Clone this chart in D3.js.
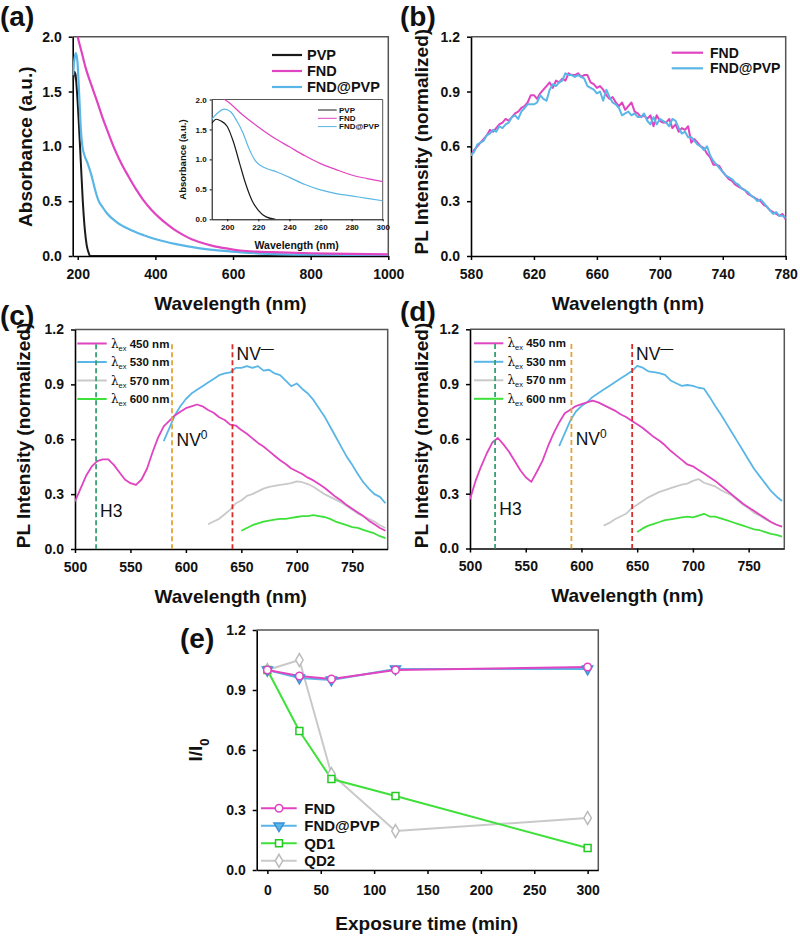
<!DOCTYPE html>
<html><head><meta charset="utf-8">
<script src="https://cdn.jsdelivr.net/npm/d3@7"></script>
<style>
body{margin:0;background:#fff}
text{font-family:"Liberation Sans",Arial,sans-serif}
</style>
</head><body>
<svg id="chart" width="800" height="937"></svg>
<script>
// ---------------- DATA ----------------
// (a) main absorbance
const aPVPx = [188,191,194,198,203,208,213,218,223,228,232,1000];
const aPVPy = [1.60,1.68,1.66,1.50,1.20,0.85,0.50,0.25,0.10,0.03,0,0];
const aFNDx = [195,200,210,220,235,249,265,280,292,310,330,350,369,390,410,430,447,470,495,515,550,590,619,660,700,800,900,1000];
const aFNDy = [2.10,2.00,1.86,1.72,1.56,1.42,1.25,1.11,1.00,0.86,0.73,0.61,0.51,0.42,0.35,0.29,0.245,0.195,0.15,0.125,0.09,0.065,0.05,0.04,0.035,0.025,0.02,0.015];
const aFPx = [188,191,195,199,204,208,212,218,225,235,245,253,265,275,300,335,370,404,450,515,600,688,800,1000];
const aFPy = [1.65,1.78,1.85,1.78,1.45,1.15,1.00,0.91,0.85,0.74,0.60,0.51,0.44,0.39,0.31,0.24,0.19,0.15,0.11,0.07,0.04,0.02,0.012,0.008];
// (a) inset
const iPVPx = [190,193,196,200,204,208,212,216,220,225,231];
const iPVPy = [1.60,1.67,1.64,1.55,1.29,0.93,0.58,0.31,0.15,0.04,0];
const iFNDx = [197,200,210,220,230,240,250,260,270,280,290,300];
const iFNDy = [2.02,1.97,1.74,1.54,1.36,1.21,1.06,0.93,0.83,0.74,0.68,0.63];
const iFPx = [190,194,198,202,206,210,214,218,222,226,232,240,250,260,270,280,290,300];
const iFPy = [1.67,1.78,1.84,1.80,1.65,1.45,1.18,0.98,0.89,0.84,0.79,0.70,0.58,0.49,0.43,0.39,0.35,0.31];
const aLegend = ["PVP","FND","FND@PVP"];

// (b) PL spectra, 580..780 nm every 2 nm
const bStart = 580, bStep = 2;
const bFND = [0.55,0.58,0.60,0.62,0.64,0.66,0.69,0.68,0.70,0.72,
0.73,0.75,0.74,0.76,0.78,0.79,0.81,0.82,0.84,0.88,
0.88,0.86,0.89,0.91,0.93,0.95,0.92,0.96,0.95,0.97,
0.96,1.00,0.99,0.99,1.00,0.98,0.99,0.99,0.95,0.94,
0.92,0.93,0.91,0.88,0.86,0.87,0.84,0.82,0.84,0.80,
0.82,0.84,0.79,0.78,0.76,0.77,0.75,0.77,0.71,0.77,
0.74,0.73,0.73,0.75,0.70,0.72,0.68,0.70,0.69,0.71,
0.62,0.64,0.62,0.60,0.59,0.56,0.54,0.50,0.50,0.49,
0.46,0.44,0.42,0.41,0.39,0.38,0.37,0.36,0.34,0.33,
0.32,0.31,0.30,0.28,0.27,0.25,0.24,0.23,0.22,0.23,
0.20];
const bFNDPVP = [0.55,0.57,0.61,0.62,0.63,0.66,0.67,0.69,0.68,0.71,
0.70,0.72,0.73,0.76,0.77,0.75,0.79,0.81,0.83,0.83,
0.83,0.84,0.88,0.86,0.85,0.91,0.94,0.93,0.95,0.96,
1.00,0.99,0.99,0.98,0.99,0.98,0.97,0.93,0.92,0.91,
0.89,0.90,0.85,0.91,0.87,0.84,0.83,0.81,0.77,0.78,
0.79,0.77,0.78,0.76,0.76,0.78,0.74,0.72,0.76,0.72,
0.75,0.74,0.73,0.71,0.75,0.74,0.70,0.67,0.68,0.65,
0.65,0.63,0.61,0.60,0.58,0.60,0.55,0.52,0.50,0.48,
0.46,0.44,0.43,0.42,0.40,0.39,0.37,0.36,0.35,0.33,
0.32,0.30,0.31,0.29,0.27,0.25,0.23,0.24,0.22,0.22,
0.21];
const bLegend = ["FND","FND@PVP"];

// (c),(d) excitation-dependent spectra, 5 nm steps
const cdStep = 5;
const start450 = 500, start530 = 580, start570 = 620, start600 = 650;
const c450 = [0.26,0.33,0.40,0.45,0.48,0.49,0.49,0.46,0.42,0.38,
0.36,0.35,0.38,0.44,0.53,0.61,0.67,0.70,0.73,0.75,
0.77,0.78,0.79,0.78,0.76,0.745,0.72,0.705,0.68,0.675,
0.65,0.63,0.605,0.58,0.56,0.535,0.51,0.485,0.465,0.44,
0.425,0.41,0.39,0.375,0.355,0.335,0.31,0.285,0.265,0.24,
0.22,0.20,0.18,0.155,0.135,0.115,0.10];
const c530 = [0.59,0.66,0.73,0.78,0.82,0.85,0.87,0.89,0.91,0.93,
0.95,0.96,0.965,0.99,0.99,1.00,0.99,1.00,0.975,0.98,
0.96,0.95,0.92,0.89,0.905,0.875,0.85,0.815,0.77,0.725,
0.67,0.615,0.56,0.505,0.46,0.41,0.365,0.33,0.30,0.285,
0.25];
const c570 = [0.135,0.15,0.165,0.19,0.215,0.25,0.265,0.29,0.30,0.315,
0.33,0.34,0.345,0.35,0.355,0.36,0.37,0.365,0.355,0.34,
0.32,0.30,0.285,0.27,0.255,0.235,0.215,0.195,0.18,0.165,0.15,0.13,0.115];
const c600 = [0.10,0.115,0.13,0.14,0.15,0.155,0.16,0.165,0.165,0.17,
0.175,0.18,0.18,0.185,0.18,0.175,0.165,0.15,0.14,0.13,
0.12,0.115,0.105,0.095,0.085,0.07,0.06];
const d450 = [0.27,0.37,0.45,0.52,0.58,0.605,0.57,0.53,0.48,0.43,
0.39,0.365,0.42,0.48,0.56,0.63,0.69,0.74,0.76,0.78,
0.79,0.80,0.81,0.80,0.785,0.77,0.755,0.735,0.72,0.70,
0.68,0.66,0.635,0.61,0.59,0.565,0.535,0.51,0.485,0.46,
0.45,0.43,0.41,0.39,0.37,0.345,0.32,0.295,0.27,0.245,
0.225,0.205,0.185,0.165,0.145,0.13,0.12];
const d530 = [0.56,0.63,0.70,0.75,0.78,0.80,0.83,0.85,0.87,0.89,
0.91,0.93,0.95,0.97,1.00,0.99,0.97,0.965,0.96,0.95,
0.92,0.905,0.89,0.895,0.89,0.88,0.875,0.83,0.78,0.735,
0.685,0.635,0.585,0.535,0.485,0.435,0.395,0.355,0.315,0.285,
0.26];
const d570 = [0.125,0.14,0.16,0.175,0.19,0.22,0.24,0.26,0.28,0.295,
0.31,0.32,0.33,0.34,0.35,0.355,0.37,0.38,0.36,0.35,
0.34,0.32,0.305,0.29,0.265,0.24,0.22,0.195,0.18,0.16,0.145,0.13,0.12];
const d600 = [0.09,0.11,0.125,0.135,0.145,0.155,0.16,0.165,0.17,0.175,
0.17,0.18,0.19,0.175,0.175,0.165,0.155,0.145,0.135,0.125,
0.115,0.105,0.10,0.09,0.08,0.075,0.065];
const exLabels = ["450 nm","530 nm","570 nm","600 nm"];
const cMarkers = [519, 587.5, 642];   // H3, NV0, NV-
const dMarkers = [522.5, 591, 645.5];

// (e) photostability
const eTimes = [0,30,60,120,300];
const eFND = [1.0,0.97,0.955,1.0,1.015];
const eFNDPVP = [1.0,0.96,0.95,1.005,1.005];
const eQD1 = [1.0,0.695,0.455,0.37,0.11];
const eQD2 = [1.0,1.05,0.48,0.195,0.26];
const eLegend = ["FND","FND@PVP","QD1","QD2"];

// ---------------- STYLE ----------------
const MAG = "#e044c0", CYAN = "#5ab6e6", GREEN = "#3ee03a", GRAY = "#c9c9c9", BLACK = "#1a1a1a";

const svg = d3.select("#chart");
const defs = svg.append("defs");
let clipId = 0;

function panel(o) {
  const x = d3.scaleLinear().domain(o.xd).range([o.l, o.r]);
  const y = d3.scaleLinear().domain(o.yd).range([o.b, o.t]);
  const g = svg.append("g");
  const id = "clip" + (clipId++);
  defs.append("clipPath").attr("id", id).append("rect")
    .attr("x", o.l).attr("y", o.t).attr("width", o.r - o.l).attr("height", o.b - o.t);
  g.append("path").attr("d", `M${o.l},${o.t}H${o.r}V${o.b}`)
    .attr("fill", "none").attr("stroke", "#555").attr("stroke-width", o.fw || 1.5);
  const fs = o.fs || 14, ts = o.ts || 4;
  const ax = g.append("g").attr("transform", `translate(0,${o.b})`)
    .call(d3.axisBottom(x).tickValues(o.xt).tickSize(ts).tickSizeOuter(0).tickPadding(o.xp || 9).tickFormat(o.xf || d3.format("d")));
  const ay = g.append("g").attr("transform", `translate(${o.l},0)`)
    .call(d3.axisLeft(y).tickValues(o.yt).tickSize(ts).tickSizeOuter(0).tickPadding(o.yp || 7).tickFormat(o.yf || d3.format(".1f")));
  [ax, ay].forEach(a => {
    a.select(".domain").attr("stroke", "#000").attr("stroke-width", o.aw || 1.6);
    a.selectAll(".tick line").attr("stroke", "#000").attr("stroke-width", o.aw || 1.5);
    a.selectAll(".tick text").attr("font-size", fs).attr("font-weight", "bold")
      .attr("font-family", '"Liberation Sans",Arial,sans-serif').attr("fill", "#111");
  });
  const plot = g.append("g").attr("clip-path", `url(#${id})`);
  return {x, y, g, plot};
}

function drawLine(p, xs, ys, color, w, curve) {
  const pts = xs.map((v, i) => [v, ys[i]]);
  p.plot.append("path").datum(pts)
    .attr("d", d3.line().curve(curve || d3.curveLinear).x(d => p.x(d[0])).y(d => p.y(d[1])))
    .attr("fill", "none").attr("stroke", color).attr("stroke-width", w)
    .attr("stroke-linejoin", "round");
}
function drawSeries(p, start, step, vals, color, w) {
  const xs = vals.map((v, i) => start + i * step);
  drawLine(p, xs, vals, color, w);
}
function label(txt, x, y, size, opts = {}) {
  const t = svg.append("text").attr("x", x).attr("y", y).attr("font-size", size)
    .attr("font-weight", opts.weight || "bold").attr("fill", "#111")
    .attr("text-anchor", opts.anchor || "start").text(txt);
  if (opts.rotate) t.attr("transform", `rotate(-90,${x},${y})`).attr("dy", "0.35em");
  if (opts.family) t.attr("font-family", opts.family);
  return t;
}
function legendLine(x1, x2, y, color, w) {
  svg.append("line").attr("x1", x1).attr("x2", x2).attr("y1", y).attr("y2", y)
    .attr("stroke", color).attr("stroke-width", w);
}
const smooth = d3.curveMonotoneX;

// ---------------- PANEL (a) ----------------
const pa = panel({l:72.7, r:388.3, t:36.7, b:256, xd:[187,1000], yd:[0,2],
  xt:[200,400,600,800,1000], yt:[0,0.5,1,1.5,2]});
drawLine(pa, aPVPx, aPVPy, BLACK, 2, smooth);
drawLine(pa, aFPx, aFPy, CYAN, 2.2, smooth);
drawLine(pa, aFNDx, aFNDy, MAG, 2.2, smooth);
[BLACK, MAG, CYAN].forEach((c, i) => {
  legendLine(272, 302, 55 + i * 16, c, 2.2);
  label(aLegend[i], 307, 55 + i * 16 + 5, 14.5);
});
label("Absorbance (a.u.)", 25, 146.7, 19, {rotate:true, anchor:"middle"});
label("Wavelength (nm)", 230.5, 310, 19, {anchor:"middle"});
label("(a)", 0, 26, 28);

// inset
const pi = panel({l:211.7, r:382.7, t:99.5, b:219.3, xd:[190,300], yd:[0,2],
  xt:[200,220,240,260,280,300], yt:[0,0.5,1,1.5,2], fs:8, ts:2, xp:3, yp:3, fw:1, aw:1});
drawLine(pi, iPVPx, iPVPy, BLACK, 1.2, smooth);
drawLine(pi, iFPx, iFPy, CYAN, 1.2, smooth);
drawLine(pi, iFNDx, iFNDy, MAG, 1.2, smooth);
[BLACK, MAG, CYAN].forEach((c, i) => {
  legendLine(318, 336.7, 110 + i * 8.3, c, 1);
  label(aLegend[i], 339, 110 + i * 8.3 + 2.8, 8);
});
label("Absorbance (a.u.)", 183, 159.5, 9.5, {rotate:true, anchor:"middle"});
label("Wavelength (nm)", 296.7, 248.5, 10.5, {anchor:"middle"});

// ---------------- PANEL (b) ----------------
const pb = panel({l:471, r:785.7, t:36.7, b:256, xd:[580,780], yd:[0,1.2],
  xt:[580,620,660,700,740,780], yt:[0,0.3,0.6,0.9,1.2]});
drawSeries(pb, bStart, bStep, bFND, MAG, 2);
drawSeries(pb, bStart, bStep, bFNDPVP, CYAN, 2);
[MAG, CYAN].forEach((c, i) => {
  legendLine(671.7, 703, 52.7 + i * 15.6, c, 2.2);
  label(bLegend[i], 710, 52.7 + i * 15.6 + 5, 14);
});
label("PL Intensity (normalized)", 421.7, 141.7, 19, {rotate:true, anchor:"middle"});
label("Wavelength (nm)", 628, 310, 19, {anchor:"middle"});
label("(b)", 400, 26, 28);

// ---------------- PANELS (c),(d) ----------------
function spectraPanel(box, data, markers, leg, lbl, tags) {
  const p = panel({l:box.l, r:box.r, t:box.t, b:box.b, xd:[500,782], yd:[0,1.2],
    xt:[500,550,600,650,700,750], yt:[0,0.3,0.6,0.9,1.2]});
  drawSeries(p, start570, cdStep, data[2], GRAY, 1.8);
  drawSeries(p, start600, cdStep, data[3], GREEN, 1.8);
  drawSeries(p, start530, cdStep, data[1], CYAN, 1.8);
  drawSeries(p, start450, cdStep, data[0], MAG, 1.8);
  [MAG, CYAN, GRAY, GREEN].forEach((c, i) => {
    const yy = leg.y0 + i * 18.5;
    legendLine(leg.x1, leg.x2, yy, c, 2);
    const t = svg.append("text").attr("x", leg.tx).attr("y", yy + 4).attr("fill", "#111");
    t.append("tspan").attr("font-size", 12).attr("font-family", '"DejaVu Serif",serif').text("λ");
    t.append("tspan").attr("font-size", 7.5).attr("dy", 3).text("ex");
    t.append("tspan").attr("font-size", 11.5).attr("font-weight", "bold").attr("dy", -3).text(" " + exLabels[i]);
  });
  ["#35a373", "#e3a53a", "#e02a2a"].forEach((c, i) => {
    svg.append("line").attr("x1", p.x(markers[i])).attr("x2", p.x(markers[i]))
      .attr("y1", p.y(1.12)).attr("y2", p.y(0)).attr("stroke", c).attr("stroke-width", 1.8)
      .attr("stroke-dasharray", "5,3");
  });
  const f = '"Open Sans","Noto Sans",sans-serif';
  label("H3", tags.h3[0], tags.h3[1], 17.5, {weight:"normal", family:f});
  const nv0 = label("NV", tags.nv0[0], tags.nv0[1], 17.5, {weight:"normal", family:f});
  nv0.append("tspan").attr("font-size", 12).attr("dy", -7).text("0");
  const nvm = label("NV", tags.nvm[0], tags.nvm[1], 17.5, {weight:"normal", family:f});
  nvm.append("tspan").attr("font-size", 13).attr("dy", -7).text("—");
  label("PL Intensity (normalized)", lbl.yx, 435.5, 19, {rotate:true, anchor:"middle"});
  label("Wavelength (nm)", lbl.xx, lbl.xy, 19, {anchor:"middle"});
  label(lbl.tag, lbl.tx, lbl.ty, 28);
  return p;
}
spectraPanel({l:75, r:387.7, t:329.5, b:549}, [c450, c530, c570, c600], cMarkers,
  {x1:77.3, x2:106.7, tx:111, y0:343.5},
  {yx:23.3, xx:230.7, xy:603, tag:"(c)", tx:0, ty:325},
  {h3:[100, 516.5], nv0:[176.5, 445.5], nvm:[236.5, 360]});
spectraPanel({l:470, r:784.3, t:329.3, b:548.5}, [d450, d530, d570, d600], dMarkers,
  {x1:474, x2:503.3, tx:507.5, y0:343.3},
  {yx:421.7, xx:627.5, xy:601.5, tag:"(d)", tx:400, ty:321},
  {h3:[499.3, 515], nv0:[575.7, 445], nvm:[636, 360]});

// ---------------- PANEL (e) ----------------
const pe = panel({l:256.7, r:598.3, t:630, b:870, xd:[-10,310], yd:[0,1.2],
  xt:[0,50,100,150,200,250,300], yt:[0,0.3,0.6,0.9,1.2], xp:11});
const symCircle = d3.symbol().type(d3.symbolCircle).size(44);
const symTri = d3.symbol().type(d3.symbolTriangle).size(44);
const symSq = d3.symbol().type(d3.symbolSquare).size(48);
const symDia = d3.symbol().type(d3.symbolDiamond).size(48);
const eSeries = [
  {vals:eFND, color:MAG, sym:symCircle, fill:"#fff", rot:0, stroke:MAG},
  {vals:eFNDPVP, color:CYAN, sym:symTri, fill:CYAN, rot:180, stroke:"#3d8fd6"},
  {vals:eQD1, color:GREEN, sym:symSq, fill:"#fff", rot:0, stroke:"#22c922"},
  {vals:eQD2, color:GRAY, sym:symDia, fill:"#fff", rot:0, stroke:"#bbb"}
];
const drawOrder = [3, 2, 1, 0];
drawOrder.forEach(k => {
  const s = eSeries[k];
  drawLine(pe, eTimes, s.vals, s.color, 2);
});
drawOrder.forEach(k => {
  const s = eSeries[k];
  eTimes.forEach((t, i) => {
    svg.append("path").attr("d", s.sym())
      .attr("transform", `translate(${pe.x(t)},${pe.y(s.vals[i])}) rotate(${s.rot})`)
      .attr("fill", s.fill).attr("stroke", s.stroke).attr("stroke-width", 1.5);
  });
});
eSeries.forEach((s, i) => {
  const yy = 808.3 + i * 17.5;
  legendLine(261, 296.7, yy, s.color, 2);
  svg.append("path").attr("d", s.sym())
    .attr("transform", `translate(279,${yy}) rotate(${s.rot})`)
    .attr("fill", s.fill).attr("stroke", s.stroke).attr("stroke-width", 1.5);
  label(eLegend[i], 304.3, yy + 5.5, 15);
});
const il = label("I/I", 195, 750, 19, {rotate:true, anchor:"middle"});
il.append("tspan").attr("font-size", 13).attr("dy", "0.55em").text("0");
label("Exposure time (min)", 426.7, 930, 19, {anchor:"middle"});
label("(e)", 180, 648, 28);
</script>
</body></html>
